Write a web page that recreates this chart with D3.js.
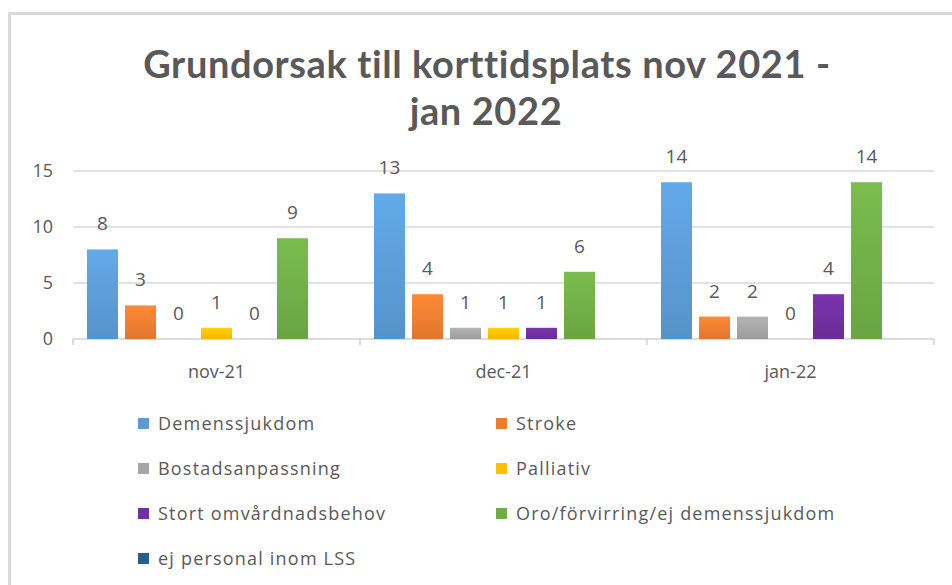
<!DOCTYPE html>
<html>
<head>
<meta charset="utf-8">
<script src="https://cdn.jsdelivr.net/npm/d3@7"></script>
<style>
  body { margin: 0; background: #fff; }
  #chart { width: 952px; height: 585px; }
  text { font-family: "Open Sans", Lato, sans-serif; fill: #595959; }
  .title { font-family: Lato, "Open Sans", sans-serif; }
</style>
</head>
<body>
<div id="chart"></div>
<script>
// chart data
const months = ["nov-21", "dec-21", "jan-22"];
const seriesNames = ["Demenssjukdom", "Stroke", "Bostadsanpassning", "Palliativ",
  "Stort omvårdnadsbehov", "Oro/förvirring/ej demenssjukdom", "ej personal inom LSS"];
const demens = [8, 13, 14];
const stroke = [3, 4, 2];
const bostad = [0, 1, 2];
const palliativ = [1, 1, 0];
const stort = [0, 1, 4];
const oro = [9, 6, 14];
const ejPersonal = [null, null, null];
const yTicks = [0, 5, 10, 15];
const colors = ["#5b9bd5", "#ed7d31", "#a5a5a5", "#ffc000", "#7030a0", "#70ad47", "#255e91"];

const allValues = [demens, stroke, bostad, palliativ, stort, oro, ejPersonal];

const width = 952, height = 585;
const svg = d3.select("#chart").append("svg")
  .attr("width", width)
  .attr("height", height);

// outer frame (cut off at right/bottom like the screenshot)
svg.append("rect")
  .attr("x", 9.5).attr("y", 13.5)
  .attr("width", 960).attr("height", 600)
  .attr("fill", "none")
  .attr("stroke", "#d9d9d9")
  .attr("stroke-width", 3);

// gradients for bars
const defs = svg.append("defs");
colors.forEach((c, i) => {
  const grad = defs.append("linearGradient")
    .attr("id", "g" + i)
    .attr("x1", 0).attr("y1", 0).attr("x2", 0).attr("y2", 1);
  grad.append("stop").attr("offset", "0%").attr("stop-color", d3.color(c).brighter(0.25));
  grad.append("stop").attr("offset", "100%").attr("stop-color", d3.color(c).darker(0.15));
});

// title
svg.append("text")
  .attr("class", "title")
  .attr("x", 487).attr("y", 78)
  .attr("text-anchor", "middle")
  .attr("font-size", 38)
  .attr("font-weight", "bold")
  .attr("letter-spacing", 0.6)
  .text("Grundorsak till korttidsplats nov 2021 -");
svg.append("text")
  .attr("class", "title")
  .attr("x", 486).attr("y", 125)
  .attr("text-anchor", "middle")
  .attr("font-size", 38)
  .attr("font-weight", "bold")
  .attr("letter-spacing", 0.6)
  .text("jan 2022");

// scales
const x0 = d3.scaleBand().domain(months).range([73, 934]);
const x1 = d3.scaleBand().domain(seriesNames).range([0, x0.bandwidth()])
  .paddingInner(0.184).paddingOuter(0.368);
const y = d3.scaleLinear().domain([0, 15]).range([339, 171]);

// gridlines
svg.append("g")
  .selectAll("line")
  .data(yTicks.filter(t => t > 0))
  .enter().append("line")
  .attr("x1", 73).attr("x2", 934)
  .attr("y1", d => y(d)).attr("y2", d => y(d))
  .attr("stroke", "#d9d9d9")
  .attr("stroke-width", 1.5);

// y axis labels
svg.append("g")
  .selectAll("text")
  .data(yTicks)
  .enter().append("text")
  .attr("x", 53)
  .attr("y", d => y(d))
  .attr("dy", "0.35em")
  .attr("text-anchor", "end")
  .attr("font-size", 18)
  .text(d => d);

// x axis line + tick marks at group boundaries
svg.append("line")
  .attr("x1", 73).attr("x2", 934)
  .attr("y1", y(0)).attr("y2", y(0))
  .attr("stroke", "#d0d0d0")
  .attr("stroke-width", 1.5);
const bounds = months.map(m => x0(m)).concat([x0(months[2]) + x0.bandwidth()]);
svg.append("g")
  .selectAll("line")
  .data(bounds)
  .enter().append("line")
  .attr("x1", d => d).attr("x2", d => d)
  .attr("y1", y(0)).attr("y2", y(0) + 6)
  .attr("stroke", "#d0d0d0")
  .attr("stroke-width", 1.5);

// category labels
svg.append("g")
  .selectAll("text")
  .data(months)
  .enter().append("text")
  .attr("x", d => x0(d) + x0.bandwidth() / 2)
  .attr("y", 372)
  .attr("dy", "0.35em")
  .attr("text-anchor", "middle")
  .attr("font-size", 18)
  .text(d => d);

// bars
const groups = svg.append("g")
  .selectAll("g")
  .data(months)
  .enter().append("g")
  .attr("transform", d => `translate(${x0(d)},0)`);

const cells = groups.selectAll("g")
  .data((m, mi) => seriesNames.map((s, si) => ({ s, si, v: allValues[si][mi] })))
  .enter().append("g");

cells.filter(d => d.v !== null).append("rect")
  .attr("x", d => x1(d.s))
  .attr("width", x1.bandwidth())
  .attr("y", d => y(d.v))
  .attr("height", d => y(0) - y(d.v))
  .attr("fill", d => `url(#g${d.si})`);

cells.filter(d => d.v !== null).append("text")
  .attr("x", d => x1(d.s) + x1.bandwidth() / 2)
  .attr("y", d => y(d.v) - 19)
  .attr("text-anchor", "middle")
  .attr("font-size", 19)
  .text(d => d.v);

// legend
const legend = svg.append("g")
  .selectAll("g")
  .data(seriesNames)
  .enter().append("g")
  .attr("transform", (d, i) => `translate(${i % 2 === 0 ? 138 : 496},${424 + Math.floor(i / 2) * 45})`);

legend.append("rect")
  .attr("x", 0).attr("y", -6)
  .attr("width", 11).attr("height", 11)
  .attr("fill", (d, i) => colors[i]);

legend.append("text")
  .attr("x", 20)
  .attr("dy", "0.35em")
  .attr("font-size", 18)
  .attr("letter-spacing", 1.2)
  .text(d => d);
</script>
</body>
</html>
